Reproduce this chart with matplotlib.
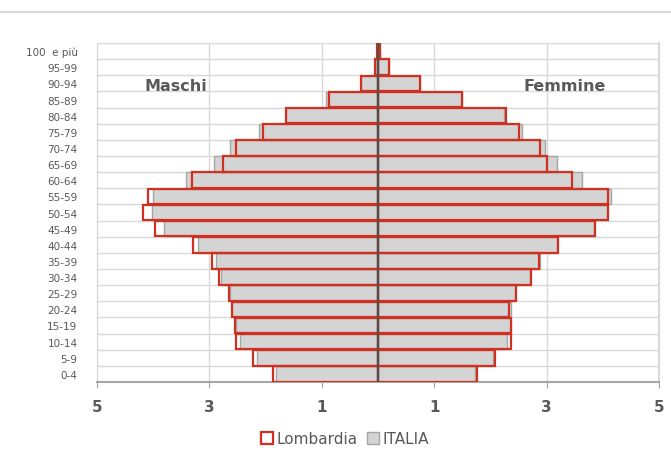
import matplotlib
matplotlib.use("Agg")
from matplotlib import pyplot as plt
from matplotlib.patches import Patch
import numpy as np

plt.rcParams['font.family'] = ['Liberation Sans Narrow', 'DejaVu Sans']

# age classes, bottom to top
ages = ["0-4", "5-9", "10-14", "15-19", "20-24", "25-29", "30-34", "35-39",
        "40-44", "45-49", "50-54", "55-59", "60-64", "65-69", "70-74",
        "75-79", "80-84", "85-89", "90-94", "95-99", "100  e più"]

# percent of population (males shown on the left)
lomb_m = [1.86, 2.22, 2.52, 2.54, 2.60, 2.65, 2.83, 2.95, 3.30, 3.96, 4.18,
          4.10, 3.31, 2.76, 2.53, 2.05, 1.63, 0.87, 0.31, 0.06, 0.02]
lomb_f = [1.76, 2.09, 2.36, 2.36, 2.33, 2.45, 2.73, 2.86, 3.20, 3.87, 4.09,
          4.09, 3.46, 3.00, 2.88, 2.51, 2.27, 1.50, 0.74, 0.20, 0.03]
ita_m = [1.82, 2.15, 2.45, 2.53, 2.59, 2.64, 2.80, 2.89, 3.21, 3.80, 4.03,
         4.01, 3.42, 2.92, 2.63, 2.12, 1.63, 0.93, 0.30, 0.05, 0.02]
ita_f = [1.73, 2.04, 2.30, 2.36, 2.37, 2.43, 2.70, 2.88, 3.19, 3.84, 4.07,
         4.15, 3.63, 3.19, 2.98, 2.57, 2.25, 1.50, 0.74, 0.20, 0.03]

xticks = [-5, -3, -1, 1, 3, 5]

red = "#d0301f"
grey_fill = "#d4d4d4"
grey_edge = "#a6a6a6"
txt = "#595959"

fig = plt.figure(figsize=(6.71, 4.60), dpi=100)
fig.add_artist(plt.Line2D([0, 1], [1 - 13 / 460, 1 - 13 / 460], color="#d9d9d9", lw=1.5))
ax = fig.add_axes([97 / 671, 1 - 383 / 460, 562 / 671, 339 / 460])

y = np.arange(len(ages))
h = 0.97

ax.barh(y, -np.array(ita_m), height=h, color=grey_fill, edgecolor=grey_edge, lw=1, zorder=2)
ax.barh(y, ita_f, height=h, color=grey_fill, edgecolor=grey_edge, lw=1, zorder=2)
ax.barh(y, -np.array(lomb_m), height=h, fill=False, edgecolor=red, lw=1.6, zorder=3)
ax.barh(y, lomb_f, height=h, fill=False, edgecolor=red, lw=1.6, zorder=3)
ax.axvline(0, color="#505050", lw=1.6, zorder=4)

ax.set_xlim(-5, 5)
ax.set_ylim(-0.5, len(ages) - 0.5)
ax.set_xticks(xticks)
ax.set_xticklabels([str(abs(v)) for v in xticks], fontsize=11, fontweight="bold", color=txt)
ax.set_yticks(y)
ax.set_yticklabels(ages, fontsize=7.5, color=txt)
ax.set_yticks(np.arange(-0.5, len(ages), 1), minor=True)
ax.tick_params(axis="y", which="both", length=0, pad=14)
ax.tick_params(axis="x", length=4, color=grey_edge, pad=8)

ax.grid(axis="x", color="#d9d9d9", lw=1, zorder=0)
ax.grid(axis="y", which="minor", color="#d9d9d9", lw=1, zorder=0)
ax.set_axisbelow(True)
for s in ["top", "left", "right"]:
    ax.spines[s].set_color("#d9d9d9")
ax.spines["right"].set_linewidth(1.5)
ax.spines["bottom"].set_color(grey_edge)
ax.spines["bottom"].set_linewidth(1.5)

ax.text(-3.6, 17.85, "Maschi", ha="center", va="center", fontsize=11.5, fontweight="bold", color=txt)
ax.text(3.32, 17.85, "Femmine", ha="center", va="center", fontsize=11.5, fontweight="bold", color=txt)

handles = [Patch(facecolor="white", edgecolor=red, lw=1.6, label="Lombardia"),
           Patch(facecolor=grey_fill, edgecolor=grey_edge, lw=1, label="ITALIA")]
fig.legend(handles=handles, loc="center", bbox_to_anchor=(0.514, 1 - 440 / 460), ncol=2,
           frameon=False, fontsize=11, handlelength=0.8, handleheight=0.8,
           handletextpad=0.2, columnspacing=0.6, labelcolor=txt)

fig.savefig("out.png", dpi=100)
